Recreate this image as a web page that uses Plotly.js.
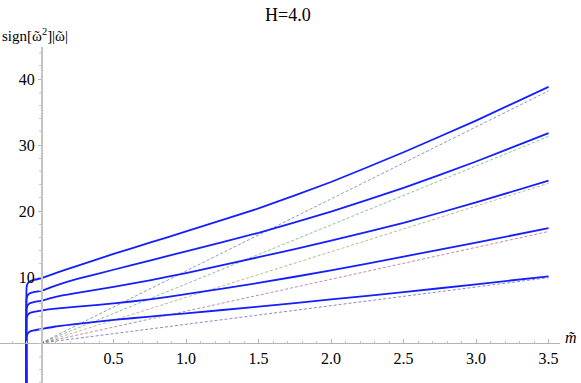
<!DOCTYPE html>
<html>
<head>
<meta charset="utf-8">
<script src="https://cdn.plot.ly/plotly-3.0.1.min.js"></script>
<style>
  html, body { margin: 0; padding: 0; background: #fff; }
  #chart { width: 581px; height: 383px; }
</style>
</head>
<body>
<div id="chart"></div>
<script>
// m~ values where the solid branches were read
const mVals = [-0.1, -0.1, -0.095, -0.08, -0.05, 0, 0.1, 0.25, 0.5, 0.75, 1.0, 1.5, 2.0, 2.5, 3.0, 3.5];

// sign[w^2]|w| for each branch (top to bottom)
const branch1 = [-10, 8.3, 8.9, 9.3, 9.55, 9.8, 10.6, 11.7, 13.5, 15.2, 16.9, 20.4, 24.4, 28.9, 33.7, 38.8];
const branch2 = [-10, 6.6, 7.1, 7.5, 7.7, 7.9, 8.7, 9.7, 11.1, 12.5, 13.9, 16.7, 19.9, 23.5, 27.5, 31.8];
const branch3 = [-10, 5.1, 5.6, 6.0, 6.2, 6.4, 7.0, 7.6, 8.5, 9.5, 10.6, 13.0, 15.5, 18.2, 21.3, 24.6];
const branch4 = [-10, 3.6, 4.1, 4.5, 4.7, 4.9, 5.2, 5.5, 6.0, 6.6, 7.4, 9.1, 11.0, 13.1, 15.2, 17.4];
const branch5 = [-10, 0.8, 1.3, 1.7, 1.9, 2.1, 2.5, 2.9, 3.5, 4.0, 4.5, 5.5, 6.6, 7.7, 8.9, 10.1];

// dashed asymptotes, from the origin to m~ = 3.5
const asymX = [0, 3.5];
const asymEnds = [38.2, 31.3, 24.2, 16.9, 9.9];
const asymColors = ['rgb(61,87,153)', 'rgb(61,153,84)', 'rgb(153,135,61)', 'rgb(153,61,107)', 'rgb(61,61,153)'];

const xTicks = [0.5, 1.0, 1.5, 2.0, 2.5, 3.0, 3.5];
const yTicks = [10, 20, 30, 40];

const xRange = [-0.283, 3.579];
const yRange = [-6.06, 44.85];

const traces = [];
asymEnds.forEach((end, i) => {
  traces.push({
    x: asymX,
    y: [0, end],
    type: 'scatter',
    mode: 'lines',
    line: { color: asymColors[i], width: 1, dash: '3px,2px' },
    opacity: 0.6,
    hoverinfo: 'skip'
  });
});

[branch1, branch2, branch3, branch4, branch5].forEach(b => {
  traces.push({
    x: mVals,
    y: b,
    type: 'scatter',
    mode: 'lines',
    line: { color: 'rgb(20,30,255)', width: 1.8, shape: 'spline', smoothing: 0.4 },
    hoverinfo: 'skip'
  });
});

const serif = 'Liberation Serif, Tinos, Times New Roman, DejaVu Serif, serif';

const layout = {
  width: 581,
  height: 383,
  margin: { l: 0, r: 21, t: 47, b: 0 },
  paper_bgcolor: '#fff',
  plot_bgcolor: '#fff',
  showlegend: false,
  font: { family: serif, size: 16, color: '#000' },
  xaxis: {
    range: xRange,
    anchor: 'free',
    position: (0 - yRange[0]) / (yRange[1] - yRange[0]),
    showline: true,
    linecolor: '#b4b4b4',
    linewidth: 1.3,
    showgrid: false,
    zeroline: false,
    tickvals: xTicks,
    ticktext: xTicks.map(v => v.toFixed(1)),
    ticks: 'inside',
    ticklen: 4,
    tickcolor: '#b4b4b4',
    minor: { ticks: 'inside', dtick: 0.1, tick0: 0, ticklen: 2, tickcolor: '#c8c8c8', showgrid: false },
    tickfont: { family: serif, size: 16, color: '#000' }
  },
  yaxis: {
    range: yRange,
    anchor: 'free',
    position: (0 - xRange[0]) / (xRange[1] - xRange[0]),
    showline: true,
    linecolor: '#c4c4c4',
    linewidth: 1.5,
    showgrid: false,
    zeroline: false,
    tickvals: yTicks,
    ticks: 'outside',
    ticklen: 3,
    tickcolor: '#b4b4b4',
    minor: { ticks: 'outside', dtick: 2, tick0: 0, ticklen: 2, tickcolor: '#c8c8c8', showgrid: false },
    tickfont: { family: serif, size: 16, color: '#000' }
  },
  annotations: [
    { text: 'H=4.0', xref: 'paper', yref: 'paper', x: 0.514, y: 1.095, xanchor: 'center', yanchor: 'middle',
      showarrow: false, font: { family: serif, size: 18 } },
    { text: 'sign[ῶ<sup>2</sup>]|ῶ|', xref: 'paper', yref: 'paper', x: 0, y: 1.035,
      xanchor: 'left', yanchor: 'middle', showarrow: false, font: { family: serif, size: 15 } },
    { text: '<i>m\u0303</i>', xref: 'paper', yref: 'paper', x: 1.02, y: 0.135, xanchor: 'center', yanchor: 'middle',
      showarrow: false, font: { family: serif, size: 16 } }
  ]
};

Plotly.newPlot('chart', traces, layout, { displayModeBar: false, staticPlot: true });
</script>
</body>
</html>
